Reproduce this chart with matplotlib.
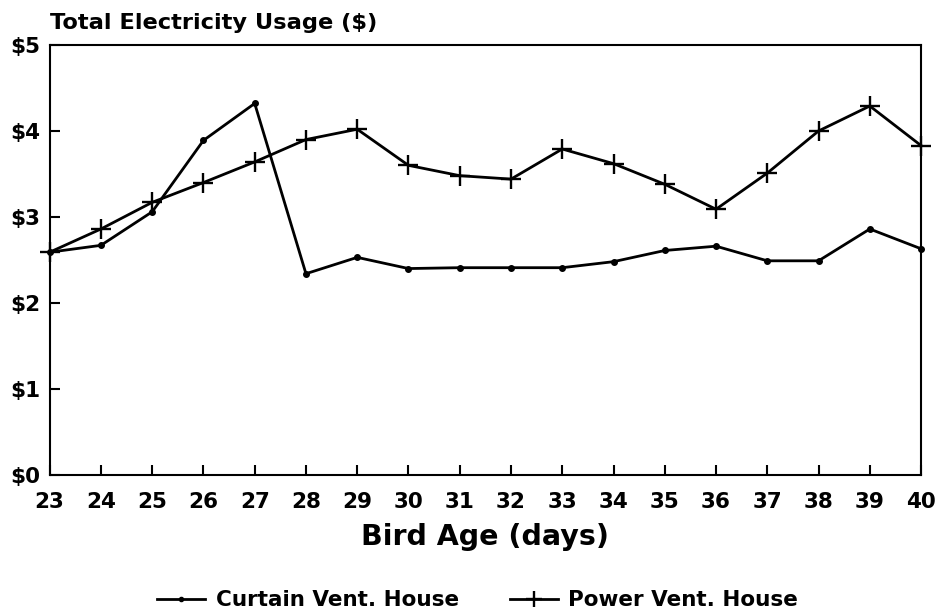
import matplotlib.pyplot as plt
import numpy as np

plt.rcParams['font.family'] = ['DejaVu Sans']
plt.rcParams['font.weight'] = 'bold'

days = list(range(23, 41))
curtain = [2.59, 2.67, 3.06, 3.89, 4.32, 2.34, 2.53, 2.40, 2.41, 2.41,
           2.41, 2.48, 2.61, 2.66, 2.49, 2.49, 2.86, 2.63]
power = [2.59, 2.86, 3.17, 3.40, 3.64, 3.90, 4.02, 3.60, 3.48, 3.44,
         3.79, 3.62, 3.38, 3.09, 3.51, 4.00, 4.29, 3.83]
y_ticks = [0, 1, 2, 3, 4, 5]
y_labels = ['$0', '$1', '$2', '$3', '$4', '$5']

fig = plt.figure(figsize=(9.37, 6.16), dpi=100)
ax = fig.add_axes([0.053, 0.229, 0.930, 0.698])

ax.plot(days, curtain, color='black', lw=2, marker='o', markersize=4,
        clip_on=False, label='Curtain Vent. House')
ax.plot(days, power, color='black', lw=2, marker='+', markersize=15,
        markeredgewidth=1.7, clip_on=False, label='Power Vent. House')

ax.set_xlim(23, 40)
ax.set_ylim(0, 5)
ax.set_xticks(days)
ax.set_xticklabels([str(d) for d in days], fontsize=15.5, fontweight='bold')
ax.set_yticks(y_ticks)
ax.set_yticklabels(y_labels, fontsize=15.5, fontweight='bold')
ax.tick_params(axis='x', direction='in', length=7, width=1.5, pad=12)
ax.tick_params(axis='y', direction='in', length=7, width=1.5, pad=7)
for s in ax.spines.values():
    s.set_linewidth(1.5)

ax.set_xlabel('Bird Age (days)', fontsize=20.5, fontweight='bold', labelpad=8)
fig.text(0.053, 0.963, 'Total Electricity Usage ($)', fontsize=16.2,
         fontweight='bold', ha='left', va='center')

# legend sits at the very bottom, two columns
fig.legend(loc='lower center', bbox_to_anchor=(0.51, -0.022), ncol=2,
           frameon=False, handlelength=2.2, handletextpad=0.5,
           columnspacing=2.4, markerscale=0.75,
           prop={'weight': 'bold', 'size': 15.5})

fig.savefig('out.png', dpi=100)
